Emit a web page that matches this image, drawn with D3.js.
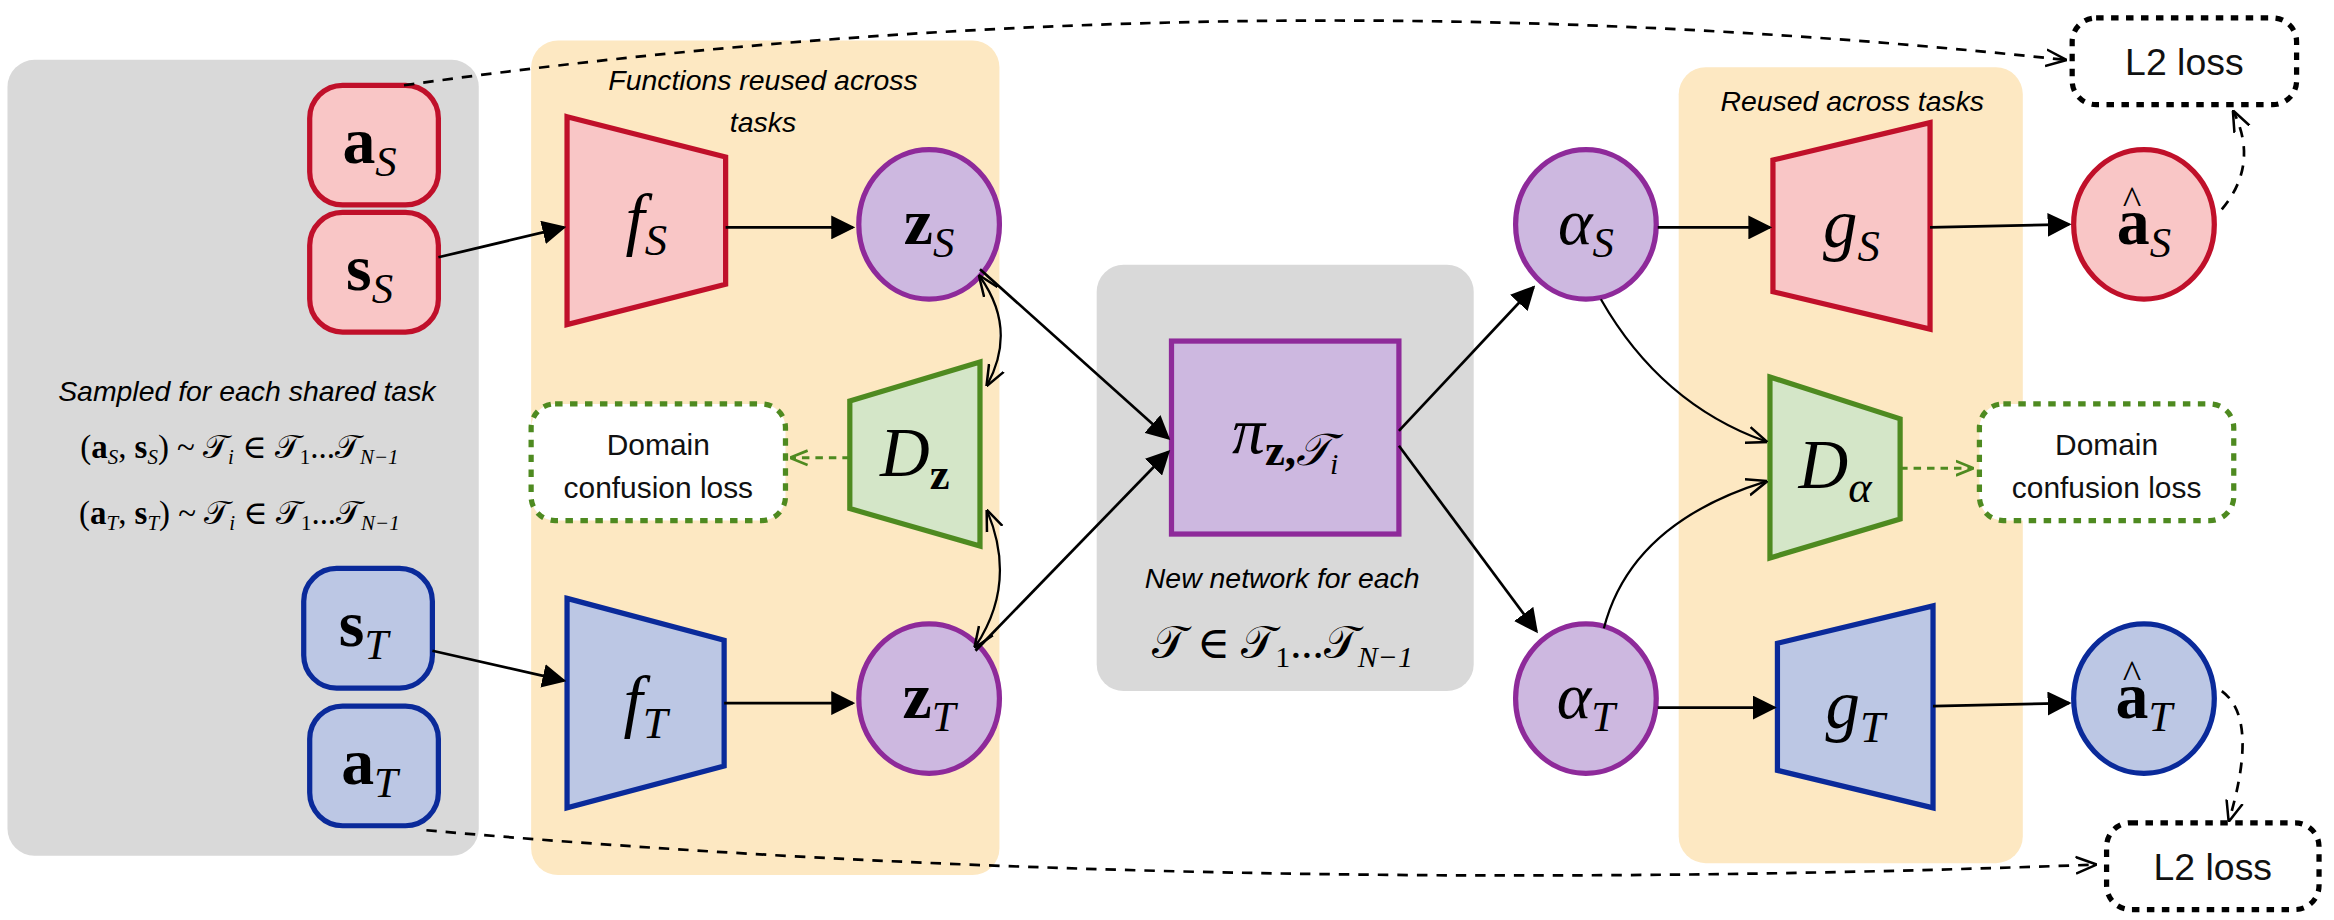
<!DOCTYPE html><html><head><meta charset="utf-8"><script src="https://cdn.jsdelivr.net/npm/d3@7"></script>
<style>body{margin:0;background:#fff}</style></head><body><svg id="c"></svg><script>
const panels=[[5,40,315,532,"#d9d9d9"],[355,27,313,558,"#fde8c2"],[733,177,252,285,"#d9d9d9"],[1122,45,230,532,"#fde8c2"]];
const colors={red:["#f9c6c6","#c0102a"],blue:["#bcc7e4","#0a2a9a"],purple:["#cdb8e0","#8e2a9a"],green:["#d4e6c8","#4e8a20"]};
const boxes=[[250,97,"red","a","S"],[250,182,"red","s","S"],[246,420,"blue","s","T"],[250,512,"blue","a","T"]];
const traps=[[379,78,217,485,105,190,"red","f","S",false],[379,400,540,484,428,512,"blue","f","T",false],
 [568,268,340,655,242,365,"green","D","z",true],[1185,107,195,1290,82,220,"red","g","S",false],
 [1188,430,515,1292,405,540,"blue","g","T",false],[1183,252,373,1270,280,347,"green","D","α",false]];
const circles=[[621,150,"purple","z","S",false,true],[621,467,"purple","z","T",false,true],[1060,150,"purple","α","S",false,false],
 [1060,467,"purple","α","T",false,false],[1433,150,"red","a","S",true,true],[1433,467,"blue","a","T",true,true]];
const arrows=[[293,172,377,152],[485,152,570,152],[289,435,377,455],[484,470,570,470],[655,180,781,293],[652,435,781,302],
 [935,288,1025,192],[935,298,1027,422],[1108,152,1183,152],[1290,152,1383,150],[1108,473,1186,473],[1292,472,1383,470]];
const curves=[["M1070,200 Q1110,270 1180,295"],["M1072,420 Q1090,350 1180,322"],["M655,185 Q680,220 660,257"],["M652,432 Q680,390 660,342"]];
const dashed=[["M270,57 Q820,-20 1380,40"],["M285,555 Q800,600 1400,578"],["M1485,140 Q1510,110 1493,75"],["M1485,462 Q1510,480 1490,548"]];
const W=1560,H=615;
const svg=d3.select("#c").attr("width",2334).attr("height",920).attr("viewBox",`0 0 ${W} ${H}`).attr("preserveAspectRatio","none");
const defs=svg.append("defs");
function mk(id,c,s){defs.append("marker").attr("id",id).attr("viewBox","0 0 10 10").attr("refX",9).attr("refY",5).attr("markerWidth",s).attr("markerHeight",s).attr("markerUnits","userSpaceOnUse").attr("orient","auto-start-reverse").append("path").attr("d",c?"M0,0L10,5L0,10z":"M0,1L10,5L0,9").attr("fill",c?"#000":"none").attr("stroke",c?"none":"#000").attr("stroke-width",1.2);}
mk("ah",true,16);mk("ao",false,14);
defs.append("marker").attr("id","ag").attr("viewBox","0 0 10 10").attr("refX",9).attr("refY",5).attr("markerWidth",12).attr("markerHeight",12).attr("markerUnits","userSpaceOnUse").attr("orient","auto").append("path").attr("d","M0,1L10,5L0,9").attr("fill","none").attr("stroke","#4e8a20").attr("stroke-width",1.5);
svg.selectAll(".p").data(panels).join("rect").attr("x",d=>d[0]).attr("y",d=>d[1]).attr("width",d=>d[2]).attr("height",d=>d[3]).attr("rx",18).attr("fill",d=>d[4]);
const serif="'Liberation Serif','DejaVu Serif',serif";
function label(g,x,y,base,sub,bold,hat,size){
 const t=g.append("text").attr("x",x).attr("y",y).attr("text-anchor","middle").attr("font-family",serif).attr("font-size",size);
 t.append("tspan").text(base).attr("font-weight",bold?"bold":"normal").attr("font-style",bold?"normal":"italic");
 t.append("tspan").text(sub).attr("font-style",sub==="z"?"normal":"italic").attr("font-weight",sub==="z"?"bold":"normal").attr("font-size",size*0.65).attr("dy",size*0.2);
 if(hat) g.append("text").attr("x",x-size*0.18).attr("y",y-size*0.45).attr("text-anchor","middle").attr("font-size",size*0.6).attr("font-family",serif).text("^");
}
boxes.forEach(d=>{const g=svg.append("g");g.append("rect").attr("x",d[0]-43).attr("y",d[1]-40).attr("width",86).attr("height",80).attr("rx",22).attr("fill",colors[d[2]][0]).attr("stroke",colors[d[2]][1]).attr("stroke-width",3.5);label(g,d[0]-3,d[1]+12,d[3],d[4],true,false,44);});
traps.forEach(d=>{const g=svg.append("g");g.append("path").attr("d",`M${d[0]},${d[1]}L${d[3]},${d[4]}L${d[3]},${d[5]}L${d[0]},${d[2]}Z`).attr("fill",colors[d[6]][0]).attr("stroke",colors[d[6]][1]).attr("stroke-width",3.5);label(g,(d[0]+d[3])/2,(d[1]+d[2])/2+14,d[7],d[8],false,false,46);});
circles.forEach(d=>{const g=svg.append("g");g.append("ellipse").attr("cx",d[0]).attr("cy",d[1]).attr("rx",47).attr("ry",50).attr("fill",colors[d[2]][0]).attr("stroke",colors[d[2]][1]).attr("stroke-width",3.5);label(g,d[0],d[1]+13,d[3],d[4],d[6],d[5],44);});
const pg=svg.append("g");pg.append("rect").attr("x",783).attr("y",228).attr("width",152).attr("height",129).attr("fill","#cdb8e0").attr("stroke","#8e2a9a").attr("stroke-width",3.5);
const pt=pg.append("text").attr("x",859).attr("y",303).attr("text-anchor","middle").attr("font-family",serif).attr("font-size",44);
pt.append("tspan").text("π").attr("font-style","italic");pt.append("tspan").text("z,").attr("font-weight","bold").attr("font-size",30).attr("dy",8);pt.append("tspan").text("𝒯").attr("font-size",30).attr("font-style","italic");pt.append("tspan").text("i").attr("font-style","italic").attr("font-size",20).attr("dy",6);
[[355,270,170,78,"#4e8a20",["Domain","confusion loss"]],[1323,270,170,78,"#4e8a20",["Domain","confusion loss"]],[1385,12,150,58,"#000",["L2 loss"]],[1408,550,142,58,"#000",["L2 loss"]]].forEach(d=>{
 svg.append("rect").attr("x",d[0]).attr("y",d[1]).attr("width",d[2]).attr("height",d[3]).attr("rx",16).attr("fill","#fff").attr("stroke",d[4]).attr("stroke-width",3.5).attr("stroke-dasharray","5,5");
 const t=svg.append("text").attr("text-anchor","middle").attr("font-family","'Liberation Sans',Arial,sans-serif").attr("font-size",d[5].length>1?20:25).attr("fill","#111");
 d[5].forEach((s,i)=>t.append("tspan").attr("x",d[0]+d[2]/2).attr("y",d[1]+d[3]/2+(d[5].length>1?(i?24:-5):9)).text(s));});
arrows.forEach(d=>svg.append("line").attr("x1",d[0]).attr("y1",d[1]).attr("x2",d[2]).attr("y2",d[3]).attr("stroke","#000").attr("stroke-width",1.8).attr("marker-end","url(#ah)"));
curves.forEach((d,i)=>svg.append("path").attr("d",d[0]).attr("fill","none").attr("stroke","#000").attr("stroke-width",1.5).attr("marker-end","url(#ao)").attr("marker-start",i>1?"url(#ao)":null));
dashed.forEach(d=>svg.append("path").attr("d",d[0]).attr("fill","none").attr("stroke","#000").attr("stroke-width",1.8).attr("stroke-dasharray","7,6").attr("marker-end","url(#ao)"));
[[568,306,529,306],[1270,313,1318,313]].forEach(d=>svg.append("line").attr("x1",d[0]).attr("y1",d[1]).attr("x2",d[2]).attr("y2",d[3]).attr("stroke","#4e8a20").attr("stroke-width",2).attr("stroke-dasharray","5,4").attr("marker-end","url(#ag)"));
const sans="'Liberation Sans',Arial,sans-serif";
[["Functions reused across",510,60],["tasks",510,88],["Reused across tasks",1238,74],["Sampled for each shared task",165,268],["New network for each",857,393]].forEach(d=>svg.append("text").attr("x",d[1]).attr("y",d[2]).attr("text-anchor","middle").attr("font-family",sans).attr("font-style","italic").attr("font-size",19).text(d[0]));
function formula(x,y,ch){const t=svg.append("text").attr("x",x).attr("y",y).attr("text-anchor","middle").attr("font-family",serif).attr("font-size",22);
 const sp=(s,o)=>{const e=t.append("tspan").text(s);if(o)Object.entries(o).forEach(([k,v])=>e.attr(k,v));};
 sp("(");sp("a",{"font-weight":"bold"});sp(ch,{"font-style":"italic","font-size":14,dy:4});sp(", ",{dy:-4});sp("s",{"font-weight":"bold"});sp(ch,{"font-style":"italic","font-size":14,dy:4});sp(") ~ 𝒯",{dy:-4});sp("i",{"font-style":"italic","font-size":14,dy:4});sp(" ∈ 𝒯",{dy:-4});sp("1",{"font-size":14,dy:4});sp("...𝒯",{dy:-4});sp("N−1",{"font-style":"italic","font-size":14,dy:4});}
formula(160,306,"S");formula(160,350,"T");
const nt=svg.append("text").attr("x",857).attr("y",440).attr("text-anchor","middle").attr("font-family",serif).attr("font-size",30);
nt.append("tspan").text("𝒯 ∈ 𝒯");nt.append("tspan").text("1").attr("font-size",20).attr("dy",6);nt.append("tspan").text("...𝒯").attr("dy",-6);nt.append("tspan").text("N−1").attr("font-style","italic").attr("font-size",20).attr("dy",6);
</script></body></html>
